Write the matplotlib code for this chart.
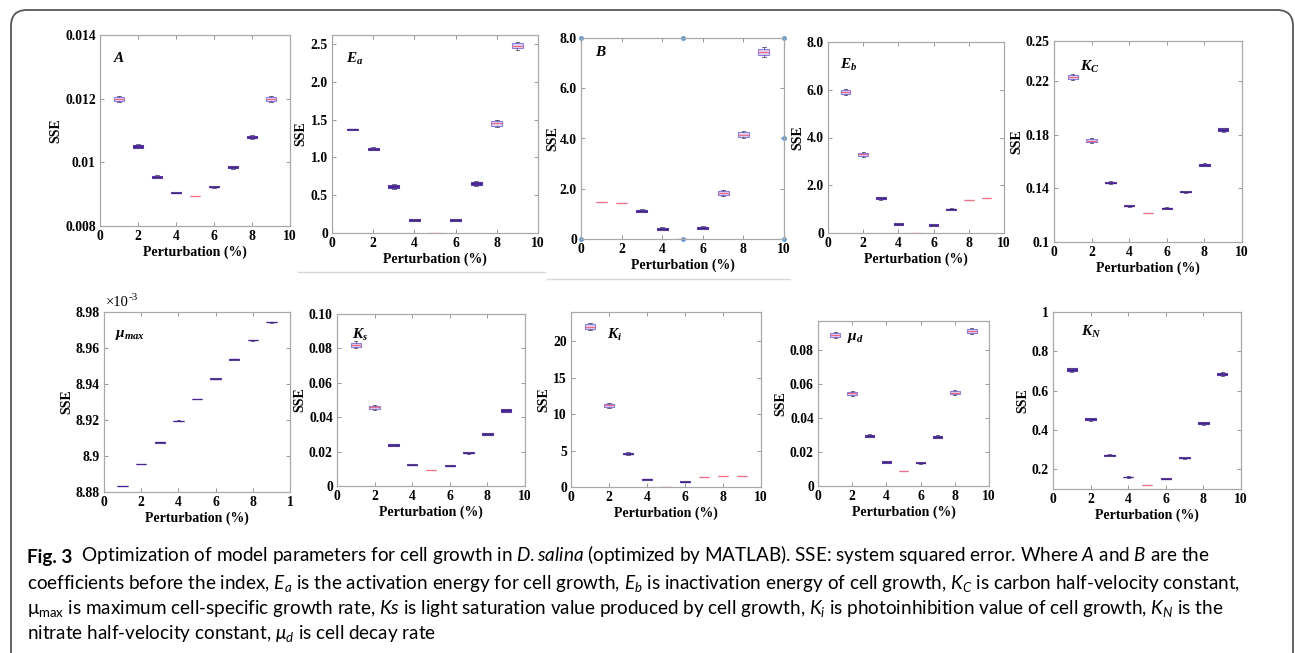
import matplotlib
matplotlib.use('Agg')
import matplotlib.pyplot as plt
import numpy as np
from matplotlib import font_manager
from matplotlib.patches import FancyBboxPatch
from matplotlib.lines import Line2D
from matplotlib.transforms import IdentityTransform

# perturbation levels (%)
x_pert = [1, 2, 3, 4, 5, 6, 7, 8, 9]

# SSE medians and half box heights
A_sse = [0.01199, 0.01051, 0.00955, 0.00905, 0.00894, 0.00923, 0.00984, 0.01080, 0.01200]
A_iqr = [0.00006, 0.000045, 0.00003, 0.00001, 0.0, 0.00002, 0.00003, 0.00004, 0.00006]

Ea_sse = [1.37, 1.115, 0.617, 0.172, 0.002, 0.172, 0.657, 1.45, 2.48]
Ea_iqr = [0.005, 0.013, 0.02, 0.012, 0.0, 0.012, 0.02, 0.03, 0.035]

B_sse = [1.48, 1.43, 1.12, 0.40, 0.0, 0.45, 1.84, 4.15, 7.45]
B_iqr = [0.0, 0.0, 0.04, 0.04, 0.0, 0.04, 0.08, 0.09, 0.13]

Eb_sse = [5.91, 3.30, 1.46, 0.375, 0.0, 0.33, 1.0, 1.38, 1.47]
Eb_iqr = [0.08, 0.07, 0.04, 0.03, 0.0, 0.03, 0.025, 0.0, 0.0]

Kc_sse = [0.2228, 0.1757, 0.1444, 0.1270, 0.1213, 0.1253, 0.1375, 0.1576, 0.1839]
Kc_iqr = [0.0015, 0.0012, 0.0007, 0.0004, 0.0, 0.0004, 0.0005, 0.0008, 0.001]

mu_max_sse = [8.8833e-3, 8.8956e-3, 8.9076e-3, 8.9196e-3, 8.9317e-3,
              8.9430e-3, 8.9537e-3, 8.9643e-3, 8.9743e-3]
mu_max_iqr = [1e-7] * 9

Ks_sse = [0.0821, 0.0458, 0.0239, 0.0124, 0.0091, 0.0118, 0.0194, 0.0303, 0.0439]
Ks_iqr = [0.0013, 0.001, 0.0005, 0.0003, 0.0, 0.0003, 0.0004, 0.0004, 0.0006]

Ki_sse = [22.0, 11.2, 4.58, 1.05, 0.0, 0.73, 1.37, 1.51, 1.56]
Ki_iqr = [0.3, 0.25, 0.12, 0.07, 0.0, 0.06, 0.0, 0.0, 0.0]

mu_d_sse = [0.0888, 0.0546, 0.0297, 0.0141, 0.0088, 0.0138, 0.0291, 0.0550, 0.0914]
mu_d_iqr = [0.0012, 0.001, 0.0006, 0.0004, 0.0, 0.0004, 0.0006, 0.001, 0.0012]

KN_sse = [0.706, 0.454, 0.271, 0.161, 0.120, 0.152, 0.259, 0.435, 0.685]
KN_iqr = [0.007, 0.005, 0.003, 0.002, 0.0, 0.002, 0.003, 0.005, 0.006]

# tick labels
A_yticks = [0.008, 0.01, 0.012, 0.014]
A_ylabels = ['0.008', '0.01', '0.012', '0.014']
Ea_yticks = [0, 0.5, 1.0, 1.5, 2.0, 2.5]
Ea_ylabels = ['0', '0.5', '1.0', '1.5', '2.0', '2.5']
B_yticks = [0, 2, 4, 6, 8]
B_ylabels = ['0', '2.0', '4.0', '6.0', '8.0']
Kc_yticks = [0.1, 0.14, 0.18, 0.22, 0.25]
Kc_ylabels = ['0.1', '0.14', '0.18', '0.22', '0.25']
mu_max_yticks = [8.88e-3, 8.90e-3, 8.92e-3, 8.94e-3, 8.96e-3, 8.98e-3]
mu_max_ylabels = ['8.88', '8.9', '8.92', '8.94', '8.96', '8.98']
Ks_yticks = [0, 0.02, 0.04, 0.06, 0.08, 0.10]
Ks_ylabels = ['0', '0.02', '0.04', '0.06', '0.08', '0.10']
Ki_yticks = [0, 5, 10, 15, 20]
Ki_ylabels = ['0', '5', '10', '15', '20']
mu_d_yticks = [0, 0.02, 0.04, 0.06, 0.08]
mu_d_ylabels = ['0', '0.02', '0.04', '0.06', '0.08']
KN_yticks = [0.2, 0.4, 0.6, 0.8, 1.0]
KN_ylabels = ['0.2', '0.4', '0.6', '0.8', '1']
x_ticks = [0, 2, 4, 6, 8, 10]
x_labels = ['0', '2', '4', '6', '8', '10']
x_labels_cut = ['0', '2', '4', '6', '8', '1']

names = {f.name for f in font_manager.fontManager.ttflist}
cap_font = 'Lato' if 'Lato' in names else 'Liberation Sans'

plt.rcParams['font.family'] = 'Liberation Serif'
plt.rcParams['mathtext.fontset'] = 'custom'
plt.rcParams['mathtext.rm'] = cap_font
plt.rcParams['mathtext.it'] = cap_font + ':italic'
plt.rcParams['mathtext.bf'] = cap_font + ':bold'
plt.rcParams['mathtext.bfit'] = 'Liberation Serif:italic:bold'

W, H = 1295, 653
fig = plt.figure(figsize=(W / 100, H / 100), dpi=100)


def make_ax(left, right, top, bottom):
    return fig.add_axes([left / W, 1 - bottom / H, (right - left) / W, (bottom - top) / H])


def draw_panel(ax, sse, iqr, ylim, yticks, ylabels, name, name_xy, xlabels=x_labels, pad=2):
    ax.set_xlim(0, 10)
    ax.set_ylim(*ylim)
    span_px = ax.get_position().height * H / (ylim[1] - ylim[0])
    stats = []
    for m, h in zip(sse, iqr):
        stats.append(dict(med=m, q1=m - h, q3=m + h, whislo=m - 1.5 * h, whishi=m + 1.5 * h, fliers=[]))
    res = ax.bxp(stats, positions=x_pert, widths=0.55, patch_artist=True, manage_ticks=False,
                 capwidths=0.18,
                 boxprops=dict(edgecolor='#8a7ee0', facecolor='#e2d6f4', linewidth=0.8),
                 medianprops=dict(color='#ee6a86', linewidth=0.9),
                 whiskerprops=dict(color='#555577', linewidth=0.6),
                 capprops=dict(color='#555577', linewidth=0.6))
    for box, med, h in zip(res['boxes'], res['medians'], iqr):
        hp = 2 * h * span_px
        if 0 < hp < 3.2:
            box.set_facecolor('#4a2a98')
            box.set_edgecolor('#5a3aa8')
            med.set_color('#4a2290')
        elif hp == 0:
            med.set_color('#f0708a')
            box.set_edgecolor('#f0708a')
    ax.set_xticks(x_ticks)
    ax.set_xticklabels(xlabels, fontsize=9.8, fontweight='bold')
    ax.set_yticks(yticks)
    ax.set_yticklabels(ylabels, fontsize=9.8, fontweight='bold')
    ax.tick_params(direction='in', length=3, width=0.6, color='#888888', top=True, right=True, pad=3)
    for s in ax.spines.values():
        s.set_color('#a8a8a8')
        s.set_linewidth(0.9)
    ax.set_xlabel('Perturbation (%)', fontsize=10, fontweight='bold', labelpad=2)
    ax.set_ylabel('SSE', fontsize=10, fontweight='bold', labelpad=pad)
    ax.text(name_xy[0], name_xy[1], name, transform=ax.transAxes, fontsize=11, ha='left', va='center')


ax = make_ax(100, 290, 35, 226)
draw_panel(ax, A_sse, A_iqr, (0.008, 0.014), A_yticks, A_ylabels, r'$\mathbfit{A}$', (0.07, 0.88))

ax = make_ax(332, 538, 35, 233)
draw_panel(ax, Ea_sse, Ea_iqr, (0, 2.62), Ea_yticks, Ea_ylabels, r'$\mathbfit{E_a}$', (0.07, 0.88))

ax = make_ax(581, 784, 38, 239)
draw_panel(ax, B_sse, B_iqr, (0, 8), B_yticks, B_ylabels, r'$\mathbfit{B}$', (0.07, 0.93), pad=0)
ax.plot([0, 0.5, 1, 1, 1, 0.5, 0], [0, 0, 0, 0.5, 1, 1, 1], 'o', ms=2.5,
        color='#5b9bd5', transform=ax.transAxes, clip_on=False)

ax = make_ax(828, 1004, 42, 233)
draw_panel(ax, Eb_sse, Eb_iqr, (0, 8), B_yticks, B_ylabels, r'$\mathbfit{E_b}$', (0.07, 0.88))

ax = make_ax(1054, 1242, 41, 242)
draw_panel(ax, Kc_sse, Kc_iqr, (0.1, 0.25), Kc_yticks, Kc_ylabels, r'$\mathbfit{K_C}$', (0.14, 0.87))

ax = make_ax(104, 290, 312, 492)
draw_panel(ax, mu_max_sse, mu_max_iqr, (8.88e-3, 8.98e-3), mu_max_yticks, mu_max_ylabels,
           r'$\mathbfit{\mu_{max}}$', (0.06, 0.87), xlabels=x_labels_cut)
t1 = ax.text(0.01, 1.015, '×10', transform=ax.transAxes, fontsize=10.5, ha='left', va='bottom')
ax.annotate('-3', xy=(1, 0.55), xycoords=t1, fontsize=8, ha='left', va='bottom')

ax = make_ax(337, 525, 314, 486)
draw_panel(ax, Ks_sse, Ks_iqr, (0, 0.10), Ks_yticks, Ks_ylabels, r'$\mathbfit{K_s}$', (0.08, 0.88))

ax = make_ax(571, 761, 312, 487)
draw_panel(ax, Ki_sse, Ki_iqr, (0, 24), Ki_yticks, Ki_ylabels, r'$\mathbfit{K_i}$', (0.19, 0.87))

ax = make_ax(818, 989, 321, 486)
draw_panel(ax, mu_d_sse, mu_d_iqr, (0, 0.0973), mu_d_yticks, mu_d_ylabels, r'$\mathbfit{\mu_d}$', (0.17, 0.9))

ax = make_ax(1053, 1241, 312, 489)
draw_panel(ax, KN_sse, KN_iqr, (0.1, 1.0), KN_yticks, KN_ylabels, r'$\mathbfit{K_N}$', (0.15, 0.89))

# faint edges of the pasted panel images
fig.add_artist(Line2D([298 / W, 545 / W], [1 - 272 / H] * 2, color='#d8d8d8', lw=1))
fig.add_artist(Line2D([547 / W, 790 / W], [1 - 279 / H] * 2, color='#d8d8d8', lw=1))

# rounded frame around the figure
frame = FancyBboxPatch((11, -30), 1282, 673, boxstyle='round,pad=0,rounding_size=16',
                       transform=IdentityTransform(), fill=False, edgecolor='#555555', lw=1.3)
fig.add_artist(frame)

# caption
cap_lines = [
    r'Optimization of model parameters for cell growth in $D. salina$ (optimized by MATLAB). SSE: system squared error. Where $A$ and $B$ are the',
    r'coefficients before the index, $E_a$ is the activation energy for cell growth, $E_b$ is inactivation energy of cell growth, $K_C$ is carbon half-velocity constant,',
    r'$\mathrm{\mu}_{\mathrm{max}}$ is maximum cell-specific growth rate, $Ks$ is light saturation value produced by cell growth, $K_i$ is photoinhibition value of cell growth, $K_N$ is the',
    r'nitrate half-velocity constant, $\mu_d$ is cell decay rate',
]
cap_size = 13.6
base_y = [563, 589, 614, 639]
t0 = fig.text(27 / W, 1 - base_y[0] / H, 'Fig. 3', family=cap_font, fontweight='bold',
              fontsize=cap_size, va='baseline', ha='left')
fig.axes[0].annotate('  ' + cap_lines[0], xy=(1, 0), xycoords=t0, family=cap_font, fontsize=cap_size,
                     va='bottom', ha='left', annotation_clip=False)
for line, yb in zip(cap_lines[1:], base_y[1:]):
    fig.text(27 / W, 1 - yb / H, line, family=cap_font, fontsize=cap_size, va='baseline', ha='left')

fig.savefig('out.png', dpi=100)
